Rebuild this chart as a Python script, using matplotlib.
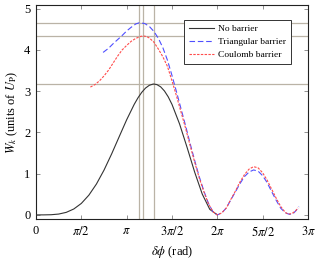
import numpy as np
import matplotlib
matplotlib.use("Agg")
import matplotlib.pyplot as plt

plt.rcParams['font.family'] = ['Liberation Serif', 'DejaVu Serif']
plt.rcParams['mathtext.fontset'] = 'stix'

# dphi values are given in units of pi
dphi_none = [0, 0.0833, 0.1667, 0.25, 0.3333, 0.4167, 0.5, 0.5833, 0.6667,
             0.75, 0.8333, 0.9167, 1.0, 1.0833, 1.125, 1.1667, 1.2083, 1.25,
             1.2917, 1.30, 1.3333, 1.375, 1.4167, 1.4583, 1.5, 1.5833, 1.6667,
             1.75, 1.8333, 1.9167, 2.0]
w_none = [0, 0.0002, 0.004, 0.020, 0.061, 0.143, 0.278, 0.479, 0.749,
          1.085, 1.474, 1.892, 2.307, 2.681, 2.840, 2.973, 3.076, 3.143,
          3.1725, 3.173, 3.160, 3.105, 3.005, 2.863, 2.679, 2.206, 1.634,
          1.037, 0.506, 0.134, 0.0]

dphi_tri = [0.74, 0.80, 0.85, 0.90, 0.95, 1.00, 1.05, 1.10, 1.14, 1.20, 1.25,
            1.30, 1.35, 1.40, 1.45, 1.50, 1.55, 1.60, 1.65, 1.70, 1.75, 1.80,
            1.85, 1.90, 1.95, 2.00, 2.05, 2.10, 2.15, 2.20, 2.25, 2.30, 2.35,
            2.40, 2.45, 2.50, 2.55, 2.60, 2.65, 2.70, 2.75, 2.80, 2.84, 2.87,
            2.90]
w_tri = [3.94, 4.04, 4.15, 4.25, 4.35, 4.46, 4.55, 4.63, 4.66, 4.64, 4.57,
         4.45, 4.28, 4.05, 3.75, 3.38, 2.98, 2.57, 2.16, 1.73, 1.32, 0.93,
         0.59, 0.29, 0.08, 0.0, 0.05, 0.17, 0.37, 0.56, 0.76, 0.93, 1.04,
         1.09, 1.06, 0.95, 0.78, 0.56, 0.35, 0.16, 0.05, 0.01, 0.04, 0.11,
         0.20]

dphi_coul = [0.60, 0.65, 0.70, 0.75, 0.80, 0.85, 0.90, 0.95, 1.00, 1.05, 1.10,
             1.15, 1.18, 1.22, 1.25, 1.30, 1.35, 1.40, 1.45, 1.50, 1.55, 1.60,
             1.65, 1.70, 1.75, 1.80, 1.85, 1.90, 1.95, 2.00, 2.05, 2.10, 2.15,
             2.20, 2.25, 2.30, 2.35, 2.40, 2.45, 2.50, 2.55, 2.60, 2.65, 2.70,
             2.75, 2.78, 2.82, 2.86, 2.89]
w_coul = [3.10, 3.16, 3.25, 3.37, 3.51, 3.68, 3.85, 4.00, 4.11, 4.21, 4.28,
          4.325, 4.34, 4.325, 4.29, 4.19, 4.02, 3.83, 3.60, 3.25, 2.88, 2.49,
          2.10, 1.68, 1.28, 0.90, 0.57, 0.28, 0.08, 0.0, 0.05, 0.17, 0.38,
          0.58, 0.80, 0.98, 1.11, 1.17, 1.14, 1.02, 0.84, 0.62, 0.40, 0.20,
          0.06, 0.02, 0.03, 0.09, 0.17]

xtick_labels = ['0', r'$\pi/2$', r'$\pi$', r'$3\pi/2$', r'$2\pi$',
                r'$5\pi/2$', r'$3\pi$']

fig = plt.figure(figsize=(3.2, 2.59), dpi=100)
ax = fig.add_axes([0.1125, 0.1544, 0.85, 0.8263])

ref_color = '#bab3a6'
curves = [
    (dphi_none, w_none, dict(color='#333333', ls='-', label='No barrier')),
    (dphi_tri, w_tri, dict(color='#4f4fff', ls=(0, (5, 2.5)), label='Triangular barrier')),
    (dphi_coul, w_coul, dict(color='#ff4c4c', ls=(0, (2.2, 1.2)), label='Coulomb barrier')),
]
for x, w, style in curves:
    x = np.pi * np.array(x)
    w = np.array(w)
    i = np.argmax(w)
    ax.axhline(w[i], color=ref_color, lw=0.9, zorder=1)
    ax.axvline(x[i], color=ref_color, lw=0.9, zorder=1)
for x, w, style in curves:
    ax.plot(np.pi * np.array(x), w, lw=0.8, zorder=3, **style)

ax.set_xlim(0, 3 * np.pi)
ax.set_ylim(-0.1, 5.09)
ax.set_xticks(np.arange(7) * np.pi / 2)
ax.set_xticklabels(xtick_labels)
ax.set_yticks(range(6))
ax.tick_params(direction='in', top=True, right=True, labelsize=9,
               length=3, width=0.5, color='#666666', pad=4)
for s in ax.spines.values():
    s.set_linewidth(0.8)
    s.set_color('#222222')

ax.set_xlabel(r'$\delta\phi$ (rad)', fontsize=9, labelpad=4)
ax.set_ylabel(r'$W_k$ (units of $U_\mathrm{P}$)', fontsize=9, labelpad=3)

leg = ax.legend(loc='upper right', bbox_to_anchor=(0.955, 0.952), fontsize=6.8,
                fancybox=False, framealpha=1, edgecolor='#333333',
                handlelength=2.6, handletextpad=0.5, borderpad=0.5,
                labelspacing=0.45)
leg.get_frame().set_linewidth(0.7)

fig.savefig('out.png', dpi=100)
